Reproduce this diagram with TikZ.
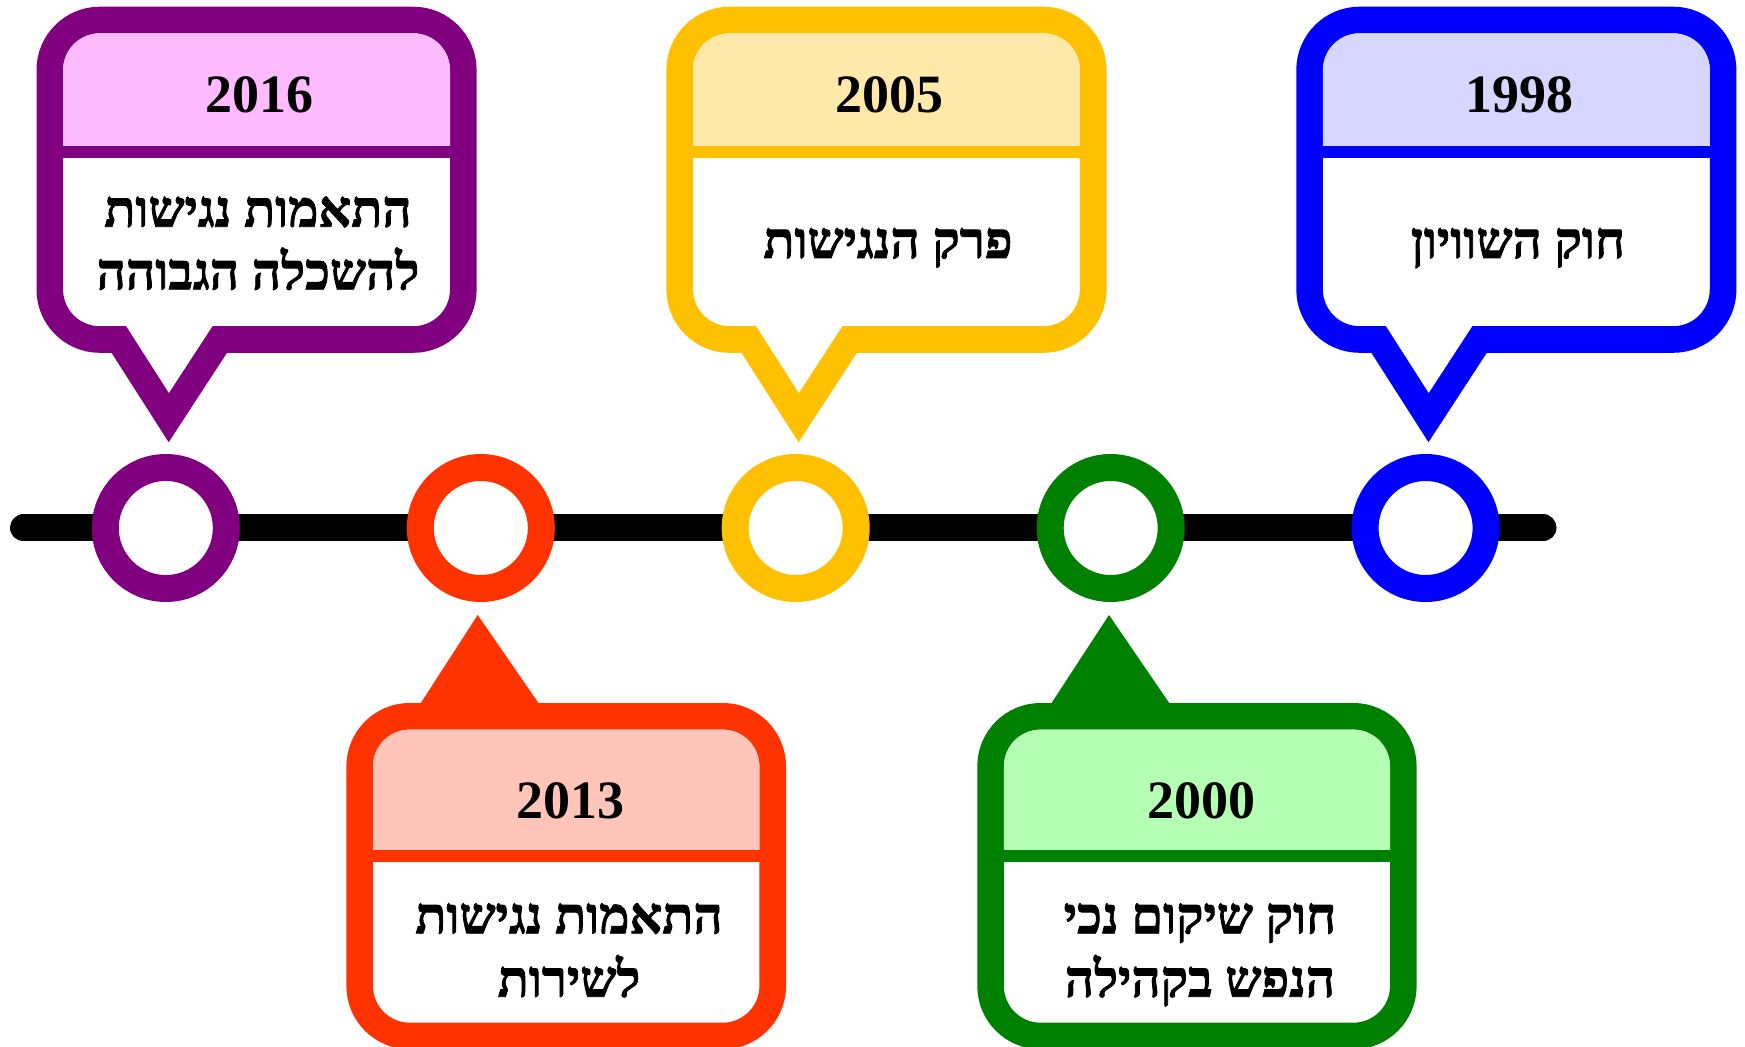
\documentclass[tikz,border=0pt]{standalone}
\usepackage{fontspec}
\setmainfont{Liberation Serif}
\newfontfamily\hebfont[Script=Hebrew,BoldFeatures={FakeBold=1.6}]{Liberation Serif}
\TeXXeTstate=1
\definecolor{purp}{RGB}{128,0,128}
\definecolor{purphead}{RGB}{255,187,255}
\definecolor{redo}{RGB}{255,51,0}
\definecolor{redohead}{RGB}{255,197,185}
\definecolor{gold}{RGB}{255,192,0}
\definecolor{goldhead}{RGB}{255,233,170}
\definecolor{grn}{RGB}{0,128,0}
\definecolor{grnhead}{RGB}{180,255,180}
\definecolor{blu}{RGB}{0,0,255}
\definecolor{bluhead}{RGB}{214,214,255}

\begin{document}
\begin{tikzpicture}[x=0.5pt,y=0.5pt,yscale=-1,
  timeline/.style={line width=13.5pt,line cap=round},
  dot/.style={circle,draw=#1,line width=13.5pt,fill=white,minimum size=60.5pt,inner sep=0pt},
  frame/.style={draw=#1,line width=13.3pt,fill=white,rounded corners=25pt},
  divider/.style={draw=#1,line width=6.3pt},
  yeartext/.style={anchor=base,inner sep=0pt,font=\fontsize{27}{31}\selectfont\bfseries},
  hebtext/.style={anchor=base,inner sep=0pt,font=\hebfont\fontsize{25.5}{31}\selectfont\bfseries}]
\useasboundingbox (0,0) rectangle (1745,1047);

%Timeline
\coordinate (tl) at (23.5,528);
\coordinate (tr) at (1543,528);
\draw[timeline] (tl) -- (tr);
\node[dot=purp] (c2016) at (165.8,528) {};
\node[dot=redo] (c2013) at (480.8,528) {};
\node[dot=gold] (c2005) at (795.7,528) {};
\node[dot=grn]  (c2000) at (1110.7,528) {};
\node[dot=blu]  (c1998) at (1425.6,528) {};

%Callout 2016
\draw[frame=purp] (118.8,339.5) [rounded corners=25pt] -- (49.8,339.5) -- (49.8,20) -- (463.3,20) -- (463.3,339.5) [sharp corners] -- (219.8,339.5) -- (168.8,417.7) -- cycle;
\fill[purphead] (63.1,152) [rounded corners=18.35pt] -- (63.1,33.3) -- (450,33.3) [sharp corners] -- (450,152) -- cycle;
\draw[divider=purp] (49.8,152) -- (463.3,152);
\node[yeartext] (y2016) at (259.1,113) {2016};
\node[hebtext] (e2016a) at (258,226.7) {\beginR התאמות נגישות\endR};
\node[hebtext] (e2016b) at (258,289.3) {\beginR להשכלה הגבוהה\endR};

%Callout 2005
\draw[frame=gold] (748.7,339.5) [rounded corners=25pt] -- (679.7,339.5) -- (679.7,20) -- (1093.2,20) -- (1093.2,339.5) [sharp corners] -- (849.7,339.5) -- (798.7,417.7) -- cycle;
\fill[goldhead] (693,152) [rounded corners=18.35pt] -- (693,33.3) -- (1079.9,33.3) [sharp corners] -- (1079.9,152) -- cycle;
\draw[divider=gold] (679.7,152) -- (1093.2,152);
\node[yeartext] (y2005) at (889,113) {2005};
\node[hebtext] (e2005) at (888,258) {\beginR פרק הנגישות\endR};

%Callout 1998
\draw[frame=blu] (1378.6,339.5) [rounded corners=25pt] -- (1309.6,339.5) -- (1309.6,20) -- (1723.1,20) -- (1723.1,339.5) [sharp corners] -- (1479.6,339.5) -- (1428.6,417.7) -- cycle;
\fill[bluhead] (1322.9,152) [rounded corners=18.35pt] -- (1322.9,33.3) -- (1709.8,33.3) [sharp corners] -- (1709.8,152) -- cycle;
\draw[divider=blu] (1309.6,152) -- (1723.1,152);
\node[yeartext] (y1998) at (1519,113) {1998};
\node[hebtext] (e1998) at (1518,258) {\beginR חוק השוויון\endR};

%Callout 2013
\fill[redo] (416.3,710) -- (477.7,615) -- (543.3,710) -- cycle;
\draw[frame=redo] (359.7,716.3) rectangle (772.7,1036);
\fill[redohead] (373,856) [rounded corners=18.35pt] -- (373,729.6) -- (759.4,729.6) [sharp corners] -- (759.4,856) -- cycle;
\draw[divider=redo] (359.7,856) -- (772.7,856);
\node[yeartext] (y2013) at (570,818.3) {2013};
\node[hebtext] (e2013a) at (569,933.3) {\beginR התאמות נגישות\endR};
\node[hebtext] (e2013b) at (569,996.7) {\beginR לשירות\endR};

%Callout 2000
\fill[grn] (1047,710) -- (1109,615) -- (1174,710) -- cycle;
\draw[frame=grn] (990.6,716.3) rectangle (1403.3,1036);
\fill[grnhead] (1003.9,856) [rounded corners=18.35pt] -- (1003.9,729.6) -- (1390,729.6) [sharp corners] -- (1390,856) -- cycle;
\draw[divider=grn] (990.6,856) -- (1403.3,856);
\node[yeartext] (y2000) at (1201,818.3) {2000};
\node[hebtext] (e2000a) at (1200,933.3) {\beginR חוק שיקום נכי\endR};
\node[hebtext] (e2000b) at (1200,996.7) {\beginR הנפש בקהילה\endR};
\end{tikzpicture}
\end{document}
